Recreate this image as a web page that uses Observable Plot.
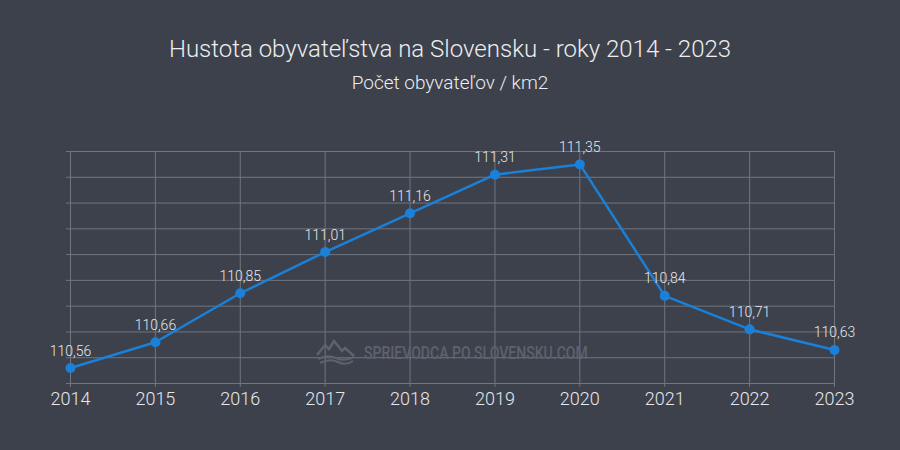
<!DOCTYPE html>
<html>
<head>
<meta charset="utf-8">
<script src="https://cdn.jsdelivr.net/npm/d3@7"></script>
<script src="https://cdn.jsdelivr.net/npm/@observablehq/plot@0.6"></script>
<style>
  html, body { margin: 0; padding: 0; background: #3c414c; }
  #wrap { position: relative; width: 900px; height: 450px; overflow: hidden; font-family: Roboto, sans-serif; }
  #head { height: 120px; text-align: center; color: #eceef0; }
  #title { position: absolute; left: 0; width: 900px; top: 34px; font-size: 24px; font-weight: 300; line-height: 30px; }
  #subtitle { position: absolute; left: 0; width: 900px; top: 71px; font-size: 19px; font-weight: 300; line-height: 24px; }
  #plot { position: absolute; left: 0; top: 120px; }
  #wm { position: absolute; left: 316px; top: 339px; display: flex; align-items: center; gap: 8px; color: #5d626d; }
  #wm span { display: inline-block; font-family: Roboto, sans-serif; font-size: 18px; font-weight: 500; transform: scaleX(0.78); transform-origin: left center; white-space: nowrap; }
</style>
</head>
<body>
<div id="wrap">
  <div id="head">
    <div id="title">Hustota obyvateľstva na Slovensku - roky 2014 - 2023</div>
    <div id="subtitle">Počet obyvateľov / km2</div>
  </div>
  <div id="plot"></div>
  <div id="wm">
    <svg width="40" height="26" viewBox="0 0 40 26"><path d="M1 16 L9 6 L13 10 L18 2 L26 12 L29 9 L38 17" fill="none" stroke="#5d626d" stroke-width="2.5"/><path d="M2 20 Q12 15 20 19 T38 18 M4 24 Q14 19 22 23 T37 22" fill="none" stroke="#5d626d" stroke-width="2"/></svg>
    <span>SPRIEVODCA PO SLOVENSKU.COM</span>
  </div>
</div>
<script>
const years = [2014, 2015, 2016, 2017, 2018, 2019, 2020, 2021, 2022, 2023];
const values = [110.56, 110.66, 110.85, 111.01, 111.16, 111.31, 111.35, 110.84, 110.71, 110.63];
const yTicks = [110.5, 110.6, 110.7, 110.8, 110.9, 111.0, 111.1, 111.2, 111.3, 111.4];

const data = years.map((y, i) => ({year: y, value: values[i]}));
const fmt = v => v.toFixed(2).replace(".", ",");

const chart = Plot.plot({
  width: 900,
  height: 330,
  marginTop: 31,
  marginBottom: 67,
  marginLeft: 70,
  marginRight: 66,
  style: { background: "transparent", color: "#e6e8eb", fontFamily: "Roboto, sans-serif" },
  x: { type: "point", domain: years, padding: 0, round: false, label: null },
  y: { domain: [110.5, 111.4], label: null },
  marks: [
    Plot.gridX(years, { stroke: "#70757f", strokeOpacity: 1, strokeWidth: 1 }),
    Plot.gridY(yTicks, { stroke: "#70757f", strokeOpacity: 1, strokeWidth: 1 }),
    Plot.axisX(years, { tickSize: 4, stroke: "#70757f", tickPadding: 5, fontSize: 18, fontWeight: 300, fill: "#e6e8eb", tickFormat: d => String(d), label: null }),
    Plot.axisY(yTicks, { tickSize: 4, stroke: "#70757f", tickFormat: () => "", label: null }),
    Plot.line(data, { x: "year", y: "value", stroke: "#1a80d8", strokeWidth: 2.5 }),
    Plot.dot(data, { x: "year", y: "value", r: 5, fill: "#1a80d8" }),
    Plot.text(data, { x: "year", y: "value", text: d => fmt(d.value), dy: -17, fontSize: 14, fill: "#e6e8eb", fontWeight: 300 })
  ]
});
document.getElementById("plot").appendChild(chart);
</script>
</body>
</html>
